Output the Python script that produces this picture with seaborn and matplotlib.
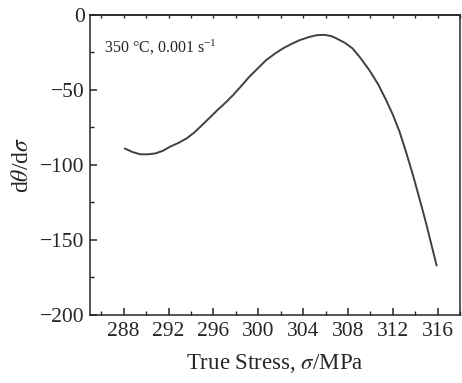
import matplotlib
matplotlib.use('Agg')
import matplotlib.pyplot as plt
from matplotlib.ticker import MultipleLocator
import numpy as np
import pandas as pd
import seaborn as sns

# values
stress = [288.1, 288.8, 289.45, 290.1, 290.8, 291.5, 292.1, 292.9, 293.6, 294.3,
          295.0, 295.7, 296.4, 297.1, 297.75, 298.5, 299.2, 300.0, 300.7, 301.5,
          302.2, 303.0, 303.7, 304.5, 305.2, 305.9, 306.5, 306.95, 307.7, 308.4,
          309.1, 309.9, 310.7, 311.4, 312.0, 312.6, 313.2, 313.8, 314.3, 314.7,
          315.0, 315.3, 315.6, 315.9]
dtheta = [-89.1, -91.5, -92.9, -93.0, -92.4, -90.6, -88.0, -85.3, -82.4, -78.4,
          -73.4, -68.3, -63.2, -58.4, -53.5, -47.3, -41.3, -35.4, -30.2, -25.8,
          -22.4, -19.3, -16.9, -14.9, -13.6, -13.4, -14.2, -15.7, -18.6, -22.4,
          -28.7, -36.9, -46.5, -56.9, -66.6, -78.0, -92.0, -107.0, -120.5, -131.5,
          -140.0, -149.0, -158.0, -167.0]

df = pd.DataFrame({'stress': stress, 'dtheta': dtheta})

sns.set_style('ticks')
plt.rcParams.update({'font.family': ['Liberation Serif', 'DejaVu Serif'],
                     'mathtext.fontset': 'stix',
                     'axes.linewidth': 1.1,
                     'xtick.direction': 'in',
                     'ytick.direction': 'in'})

fig = plt.figure(figsize=(4.62, 3.83), dpi=100)
ax = fig.add_axes([0.195, 0.1775, 0.801, 0.784])

sns.lineplot(data=df, x='stress', y='dtheta', ax=ax, color='#404040',
             linewidth=1.4, sort=False)

ax.set_xlim(285, 318)
ax.set_ylim(-200, 0)
ax.xaxis.set_major_locator(MultipleLocator(4))
ax.xaxis.set_minor_locator(MultipleLocator(2))
ax.yaxis.set_major_locator(MultipleLocator(50))
ax.yaxis.set_minor_locator(MultipleLocator(25))
ax.set_xticks(np.arange(288, 317, 4))
ax.tick_params(which='major', length=5, width=1.1, labelsize=15.5, pad=4)
ax.tick_params(axis='x', which='major', pad=5)
ax.tick_params(which='minor', length=3, width=1.0)
ax.tick_params(which='both', right=False, top=False)

top = ax.secondary_xaxis('top')
top.xaxis.set_major_locator(MultipleLocator(2))
top.tick_params(which='both', direction='in', length=2.5, width=1.0, labeltop=False)
top.xaxis.set_minor_locator(MultipleLocator(100))

ax.set_xlabel(r'True Stress, $\sigma$/MPa', fontsize=16.5, labelpad=8)
ax.set_ylabel(r'd$\theta$/d$\sigma$', fontsize=17, labelpad=5)

ax.text(0.038, 0.89, r'350 °C, 0.001 s$^{\mathregular{-1}}$', transform=ax.transAxes,
        fontsize=11.5, ha='left', va='center')

fig.savefig('out.png', dpi=100)
